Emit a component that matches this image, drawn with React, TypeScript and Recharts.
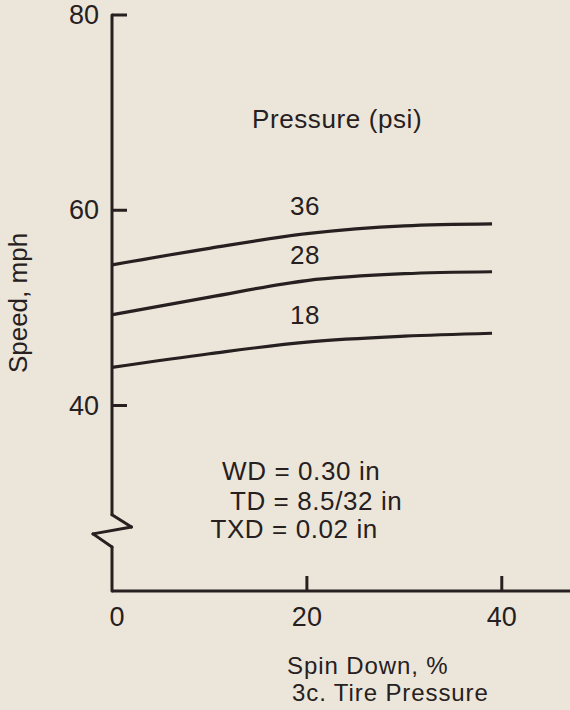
import React from 'react';
import { ComposedChart, Line, XAxis, YAxis, ReferenceLine, ReferenceDot } from 'recharts';

const INK = '#262020';
const PAPER = '#ece6da';
const FONT = '"Liberation Sans", Arial, Helvetica, sans-serif';

// spin down, % (x) and speed, mph for each tire pressure
const spinDown = [0, 10, 20, 30, 39];
const speed36 = [54.4, 56.1, 57.6, 58.4, 58.6];
const speed28 = [49.3, 51.1, 52.8, 53.5, 53.7];
const speed18 = [43.9, 45.3, 46.5, 47.1, 47.4];

const xTicks = [0, 20, 40];
const yTicks = [40, 60, 80];

const curveLabels = [
  { x: 19.8, y: 60.5, text: '36' },
  { x: 19.8, y: 55.4, text: '28' },
  { x: 19.8, y: 49.3, text: '18' },
];

const notes = [
  { x: 11.3, y: 33.35, text: 'WD = 0.30 in' },
  { x: 12.1, y: 30.27, text: 'TD = 8.5/32 in' },
  { x: 10.1, y: 27.4, text: 'TXD = 0.02 in' },
];

// y axis drawn by hand so it can show the break near the bottom
const axisPath = [
  { x: 0, y: 80 },
  { x: 0, y: 28.8 },
  { x: 2.0, y: 27.55 },
  { x: -1.95, y: 26.85 },
  { x: 0, y: 25.5 },
  { x: 0, y: 21 },
];

const data = spinDown.map((x, i) => ({
  x,
  p36: speed36[i],
  p28: speed28[i],
  p18: speed18[i],
}));

const YTick = (props: any) => {
  const { x, y, payload } = props;
  return (
    <g>
      <line x1={x} y1={y} x2={x + 15} y2={y} stroke={INK} strokeWidth={3} />
      <text x={x - 13} y={y + 9} textAnchor="end" fill={INK} fontSize={27} fontFamily={FONT}>
        {payload.value}
      </text>
    </g>
  );
};

const XTick = (props: any) => {
  const { x, y, payload } = props;
  return (
    <g>
      {payload.value !== 0 && <line x1={x} y1={y} x2={x} y2={y - 15} stroke={INK} strokeWidth={3} />}
      <text x={payload.value === 0 ? x + 5 : x} y={y + 35} textAnchor="middle" fill={INK} fontSize={27} fontFamily={FONT}>
        {payload.value}
      </text>
    </g>
  );
};

const XTitle = (props: any) => {
  const vb = props.viewBox || { x: 112, y: 591 };
  return (
    <g fill={INK} fontSize={24} fontFamily={FONT} style={{ letterSpacing: 0.9 }}>
      <text x={vb.x + 175} y={vb.y + 83}>Spin Down, %</text>
      <text x={vb.x + 180} y={vb.y + 110}>3c. Tire Pressure</text>
    </g>
  );
};

const textStyle = { fill: INK, fontSize: 26, fontFamily: FONT, letterSpacing: 0.6 };

export default function App() {
  return (
    <div style={{ position: 'absolute', left: 0, top: 0, width: 570, height: 710, background: PAPER }}>
      <ComposedChart width={570} height={710} data={data} margin={{ top: 15, right: 0, bottom: 0, left: 0 }}>
        <XAxis
          dataKey="x"
          type="number"
          domain={[0, 47]}
          ticks={xTicks}
          interval={0}
          height={119}
          tickSize={0}
          tickMargin={0}
          tickLine={false}
          tick={<XTick />}
          axisLine={{ stroke: INK, strokeWidth: 3 }}
          label={<XTitle />}
        />
        <YAxis
          type="number"
          domain={[21, 80]}
          ticks={yTicks}
          interval={0}
          width={112}
          tickSize={0}
          tickMargin={0}
          tickLine={false}
          axisLine={false}
          tick={<YTick />}
          label={{
            value: 'Speed, mph',
            angle: -90,
            position: 'insideLeft',
            offset: 18,
            fill: INK,
            fontSize: 26,
            fontFamily: FONT,
            style: { textAnchor: 'middle' },
          }}
        />
        {axisPath.slice(1).map((p, i) => (
          <ReferenceLine
            key={'ax' + i}
            segment={[axisPath[i], p]}
            stroke={INK}
            strokeWidth={3}
            strokeLinecap="round"
            ifOverflow="visible"
          />
        ))}
        <Line type="monotone" dataKey="p36" stroke={INK} strokeWidth={3.2} dot={false} isAnimationActive={false} />
        <Line type="monotone" dataKey="p28" stroke={INK} strokeWidth={3.2} dot={false} isAnimationActive={false} />
        <Line type="monotone" dataKey="p18" stroke={INK} strokeWidth={3.2} dot={false} isAnimationActive={false} />
        <ReferenceDot
          x={23.1}
          y={69.35}
          r={0}
          fill="none"
          stroke="none"
          ifOverflow="visible"
          label={{ value: 'Pressure (psi)', position: 'center', ...textStyle }}
        />
        {curveLabels.map((l) => (
          <ReferenceDot
            key={l.text}
            x={l.x}
            y={l.y}
            r={0}
            fill="none"
            stroke="none"
            ifOverflow="visible"
            label={{ value: l.text, position: 'center', ...textStyle }}
          />
        ))}
        {notes.map((n) => (
          <ReferenceDot
            key={n.text}
            x={n.x}
            y={n.y}
            r={0}
            fill="none"
            stroke="none"
            ifOverflow="visible"
            label={{ value: n.text, position: 'right', offset: 0, ...textStyle }}
          />
        ))}
      </ComposedChart>
    </div>
  );
}
